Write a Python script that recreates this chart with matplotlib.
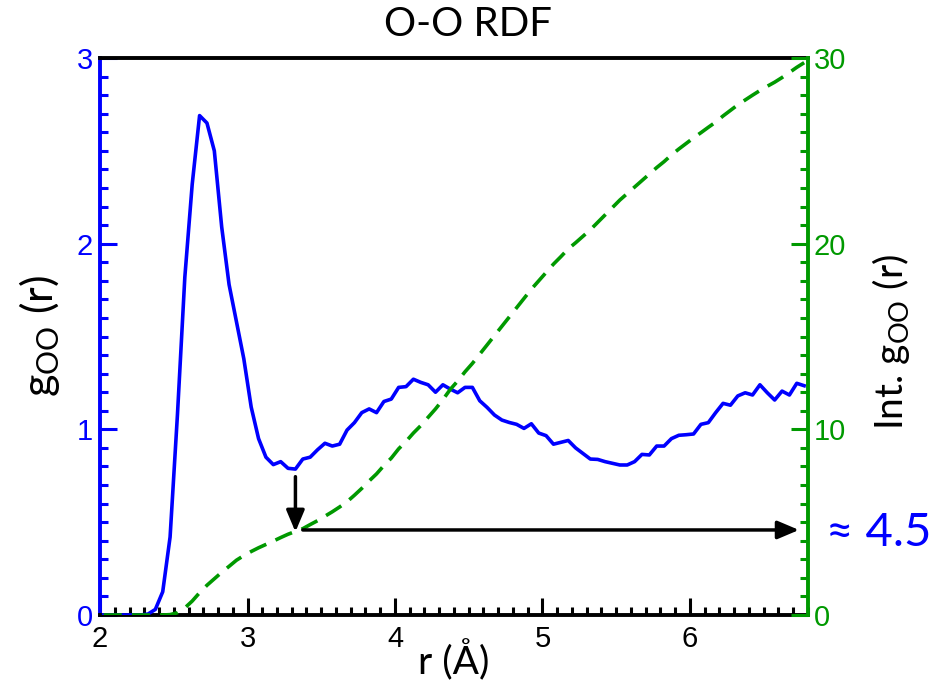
import numpy as np
import matplotlib
matplotlib.use("Agg")
import matplotlib.pyplot as plt
from matplotlib.ticker import MultipleLocator

# ---------------- data ----------------
r = np.round(np.arange(2.025, 6.80, 0.05), 3)  # bin centres (Å)

g_oo = [0, 0, 0, 0, 0, 0, 0.005, 0.03, 0.125, 0.42,
        1.08, 1.82, 2.32, 2.69, 2.65, 2.50, 2.09, 1.78, 1.58, 1.38,
        1.12, 0.95, 0.85, 0.81, 0.826, 0.79, 0.786, 0.84, 0.85, 0.89,
        0.925, 0.91, 0.92, 0.996, 1.036, 1.09, 1.11, 1.09, 1.15, 1.163,
        1.226, 1.23, 1.27, 1.253, 1.24, 1.20, 1.24, 1.217, 1.197, 1.226,
        1.226, 1.154, 1.118, 1.077, 1.05, 1.037, 1.027, 1.005, 1.03, 0.98,
        0.966, 0.92, 0.93, 0.94, 0.90, 0.87, 0.84, 0.838, 0.826, 0.817,
        0.808, 0.808, 0.826, 0.865, 0.862, 0.91, 0.91, 0.95, 0.968, 0.971,
        0.975, 1.027, 1.036, 1.09, 1.14, 1.13, 1.18, 1.197, 1.185, 1.24,
        1.197, 1.158, 1.206, 1.185, 1.248, 1.235]

int_g_oo = [0, 0, 0, 0, 0, 0, 0, 0, 0, 0.02,
            0.12, 0.38, 0.75, 1.2, 1.6, 1.95, 2.3, 2.62, 2.95, 3.2,
            3.42, 3.62, 3.8, 3.98, 4.17, 4.35, 4.5, 4.65, 4.87, 5.08,
            5.32, 5.56, 5.82, 6.1, 6.45, 6.82, 7.22, 7.6, 8.05, 8.45,
            8.95, 9.35, 9.8, 10.2, 10.65, 11.1, 11.6, 12.15, 12.6, 13.1,
            13.55, 14.05, 14.55, 15.05, 15.55, 16.05, 16.55, 17.05, 17.55, 18.0,
            18.45, 18.9, 19.3, 19.72, 20.05, 20.4, 20.75, 21.15, 21.55, 21.95,
            22.35, 22.7, 23.05, 23.4, 23.75, 24.1, 24.42, 24.78, 25.1, 25.4,
            25.7, 25.98, 26.27, 26.55, 26.88, 27.18, 27.48, 27.74, 28.0, 28.25,
            28.48, 28.7, 28.95, 29.22, 29.5, 29.75]

x_ticks = [2, 3, 4, 5, 6]
g_ticks = [0, 1, 2, 3]
n_ticks = [0, 10, 20, 30]

r_first_min = 3.325        # first minimum of g_OO
g_arrow_start = 0.745      # start of the vertical arrow (g units)
coord_number = 4.58        # integral at the first minimum
r_arrow_start = 3.375
r_arrow_end = 6.74
coord_text = "≈ 4.5"

# ---------------- style ----------------
BLUE = "#0000FF"
GREEN = "#009900"
plt.rcParams["mathtext.fontset"] = "custom"
plt.rcParams["mathtext.rm"] = "Lato"
plt.rcParams["mathtext.it"] = "Lato:italic"
LABEL_FONT = "Lato"
TICK_FONT = "Liberation Sans"

fig = plt.figure(figsize=(9.35, 6.91), dpi=100)
ax = fig.add_axes([0.107, 0.110, 0.757, 0.806])
ax2 = ax.twinx()

ax.plot(r, g_oo, color=BLUE, lw=2.6, zorder=3)
ax2.plot(r, int_g_oo, color=GREEN, lw=2.6, ls=(0, (5, 2.8)), zorder=3)

ax.set_xlim(2, 6.8)
ax.set_ylim(0, 3)
ax2.set_ylim(0, 30)

ax.set_xticks(x_ticks)
ax.xaxis.set_minor_locator(MultipleLocator(0.1))
ax.set_yticks(g_ticks)
ax.yaxis.set_minor_locator(MultipleLocator(0.1))
ax2.set_yticks(n_ticks)
ax2.yaxis.set_minor_locator(MultipleLocator(1))

for s in ["top", "bottom"]:
    ax.spines[s].set_color("black")
    ax.spines[s].set_linewidth(2.8)
    ax2.spines[s].set_visible(False)
ax.spines["left"].set_color(BLUE)
ax.spines["left"].set_linewidth(2.8)
ax.spines["right"].set_visible(False)
ax2.spines["left"].set_visible(False)
ax2.spines["right"].set_color(GREEN)
ax2.spines["right"].set_linewidth(2.8)

ax.tick_params(axis="x", which="both", direction="in", top=False, colors="black",
               width=2.2, labelsize=21, pad=7)
ax.tick_params(axis="x", which="major", length=12)
ax.tick_params(axis="x", which="minor", length=6)
ax.tick_params(axis="y", which="both", direction="in", right=False, colors=BLUE,
               width=2.2, labelsize=21, pad=5)
ax.tick_params(axis="y", which="major", length=12)
ax.tick_params(axis="y", which="minor", length=6)
ax2.tick_params(axis="y", which="both", direction="in", left=False, colors=GREEN,
                width=2.2, labelsize=21, pad=4)
ax2.tick_params(axis="y", which="major", length=12)
ax2.tick_params(axis="y", which="minor", length=6)
for lab in ax.get_xticklabels() + ax.get_yticklabels() + ax2.get_yticklabels():
    lab.set_fontfamily(TICK_FONT)

fig.text(0.5, 1 - 25 / 691, "O-O RDF", fontsize=29, fontfamily=LABEL_FONT,
         ha="center", va="center")
ax.set_xlabel("r (Å)", fontsize=28, fontfamily=LABEL_FONT)
ax.xaxis.set_label_coords(0.50, -0.045)
ax.set_ylabel(r"g$_{\mathrm{OO}}$ (r)", fontsize=31, fontfamily=LABEL_FONT)
ax.yaxis.set_label_coords(-0.054, 0.5)
ax2.set_ylabel(r"Int. g$_{\mathrm{OO}}$ (r)", fontsize=28, fontfamily=LABEL_FONT,
               rotation=90)
ax2.yaxis.set_label_coords(1.088, 0.49)

# arrows
ax2.annotate("", xy=(r_first_min, coord_number - 0.1),
             xytext=(r_first_min, g_arrow_start * 10),
             arrowprops=dict(arrowstyle="-|>,head_length=1.3,head_width=0.55",
                             color="black", lw=2.5, shrinkA=0, shrinkB=0))
ax2.annotate("", xy=(r_arrow_end, coord_number), xytext=(r_arrow_start, coord_number),
             arrowprops=dict(arrowstyle="-|>,head_length=1.3,head_width=0.55",
                             color="black", lw=2.5, shrinkA=0, shrinkB=0))
ax.text(1.025, 0.147, coord_text, transform=ax.transAxes, color=BLUE,
        fontsize=34, fontfamily=LABEL_FONT, ha="left", va="center")

fig.savefig("out.png", dpi=100)
